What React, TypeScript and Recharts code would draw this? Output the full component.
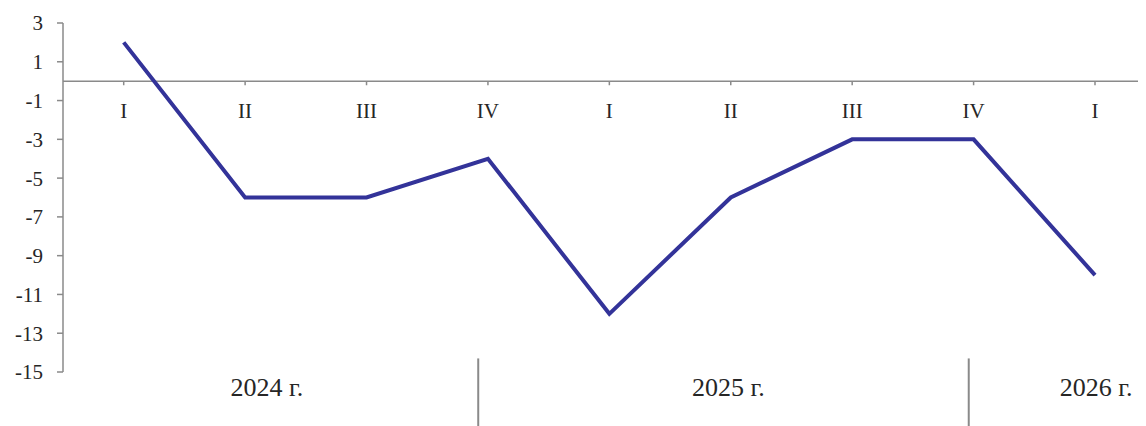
import React from 'react';
import { LineChart, Line, XAxis, YAxis, ReferenceLine, LabelList } from 'recharts';

const quarters = ['I', 'II', 'III', 'IV', 'I', 'II', 'III', 'IV', 'I'];
const values = [2, -6, -6, -4, -12, -6, -3, -3, -10];
const yTicks = [-15, -13, -11, -9, -7, -5, -3, -1, 1, 3];
const years = ['2024 г.', '2025 г.', '2026 г.'];
const yearCenters = [1.18, 4.98, 8.01];
const yearSeparators = [2.92, 6.96];

const data = values.map((v, i) => ({ i, q: quarters[i], v, zero: 0 }));

const FONT = '"Liberation Serif", "Times New Roman", serif';
const GRAY = '#8a8a8a';
const TEXT = '#262626';

const QuarterTick = (props: any) => {
  const { cx, cy, index } = props;
  return <line key={'qt' + index} x1={cx} x2={cx} y1={cy} y2={cy + 4} stroke={GRAY} strokeWidth={1.5} />;
};

const QuarterLabel = (props: any) => {
  const { x, y, value, index } = props;
  return (
    <text key={'ql' + index} x={x} y={y + 37} textAnchor="middle" fill={TEXT} fontSize={21} fontFamily={FONT}>
      {value}
    </text>
  );
};

export default function App() {
  return (
    <LineChart width={1138} height={418} data={data} margin={{ top: 15, right: 0, bottom: 24, left: 0 }}>
      <XAxis
        dataKey="i"
        type="number"
        domain={[-0.5, 8.42]}
        ticks={yearCenters}
        interval={0}
        allowDataOverflow
        tickFormatter={(v: number) => years[yearCenters.indexOf(v)]}
        axisLine={false}
        tickLine={false}
        tickSize={6}
        tickMargin={0}
        height={30}
        tick={{ fill: TEXT, fontSize: 26, fontFamily: FONT }}
      />
      <YAxis
        type="number"
        domain={[-15, 3]}
        ticks={yTicks}
        interval={0}
        width={55}
        axisLine={{ stroke: GRAY, strokeWidth: 1.5 }}
        tickLine={{ stroke: GRAY, strokeWidth: 1.5 }}
        tickSize={6}
        tickMargin={14}
        tick={{ fill: TEXT, fontSize: 21, fontFamily: FONT }}
      />
      <ReferenceLine y={0} stroke={GRAY} strokeWidth={1.5} />
      {yearSeparators.map((s) => (
        <ReferenceLine
          key={'sep' + s}
          segment={[{ x: s, y: -14.3 }, { x: s, y: -17.8 }]}
          stroke={GRAY}
          strokeWidth={2}
          ifOverflow="visible"
        />
      ))}
      <Line
        dataKey="zero"
        stroke="none"
        dot={QuarterTick}
        activeDot={false}
        isAnimationActive={false}
      >
        <LabelList dataKey="q" content={QuarterLabel} />
      </Line>
      <Line
        dataKey="v"
        stroke="#333399"
        strokeWidth={4}
        dot={false}
        activeDot={false}
        isAnimationActive={false}
      />
    </LineChart>
  );
}
